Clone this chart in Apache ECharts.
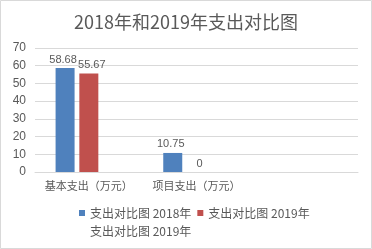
<!DOCTYPE html>
<html><head><meta charset="utf-8">
<script src="https://cdn.jsdelivr.net/npm/echarts@6/dist/echarts.min.js"></script>
<style>html,body{margin:0;padding:0;background:#fff}#c{width:372px;height:249px}</style>
</head><body><div id="c"></div>
<script>
var categories = ['基本支出（万元）', '项目支出（万元）', ''];
var values2018 = [58.68, 10.75, null];
var values2019 = [55.67, 0, null];
var values2019b = [null, null, null];
var seriesNames = ['支出对比图 2018年', '支出对比图 2019年', '支出对比图 2019年 '];
var yTicks = {min: 0, max: 70, interval: 10};

var txt = '#595959';
var font = '"Noto Sans CJK SC", "Noto Sans", sans-serif';
var numFont = '"Liberation Sans", sans-serif';
var chart = echarts.init(document.getElementById('c'));
chart.setOption({
  animation: false,
  textStyle: {fontFamily: font},
  graphic: [{type: 'rect', shape: {x: 0.5, y: 0.5, width: 371, height: 248}, style: {fill: 'none', stroke: '#d9d9d9', lineWidth: 1}}],
  title: {text: '2018年和2019年支出对比图', left: 'center', top: 8,
    textStyle: {fontSize: 18, fontWeight: 'normal', color: txt, fontFamily: font}},
  grid: {left: 35, right: 14, top: 48, bottom: 77},
  legend: {data: seriesNames, left: 74, top: 202, width: 235, itemWidth: 6, itemHeight: 6, itemGap: 6,
    icon: 'rect', textStyle: {fontSize: 12, color: txt, lineHeight: 9, fontFamily: font}},
  xAxis: {type: 'category', data: categories,
    axisLine: {lineStyle: {color: '#d9d9d9'}}, axisTick: {show: false},
    axisLabel: {color: txt, fontSize: 11, margin: 8, interval: 0}},
  yAxis: {type: 'value', min: yTicks.min, max: yTicks.max, interval: yTicks.interval,
    axisLine: {show: false}, axisTick: {show: false},
    splitLine: {lineStyle: {color: '#d9d9d9'}},
    axisLabel: {color: txt, fontSize: 12, margin: 9, fontFamily: numFont}},
  series: [
    {name: seriesNames[0], type: 'bar', data: values2018, barWidth: 19, barGap: '25%',
      itemStyle: {color: '#4F81BD'},
      label: {show: true, position: 'top', color: txt, fontSize: 11, distance: 3, fontFamily: numFont, offset: [-2, 0]}},
    {name: seriesNames[1], type: 'bar', data: values2019, barWidth: 19, barGap: '25%',
      itemStyle: {color: '#C0504D'},
      label: {show: true, position: 'top', color: txt, fontSize: 11, distance: 3, fontFamily: numFont, offset: [3, 0]}},
    {name: seriesNames[2], type: 'bar', data: values2019b, barWidth: 19, barGap: '25%',
      itemStyle: {color: 'rgba(0,0,0,0)'}}
  ]
});
</script></body></html>
